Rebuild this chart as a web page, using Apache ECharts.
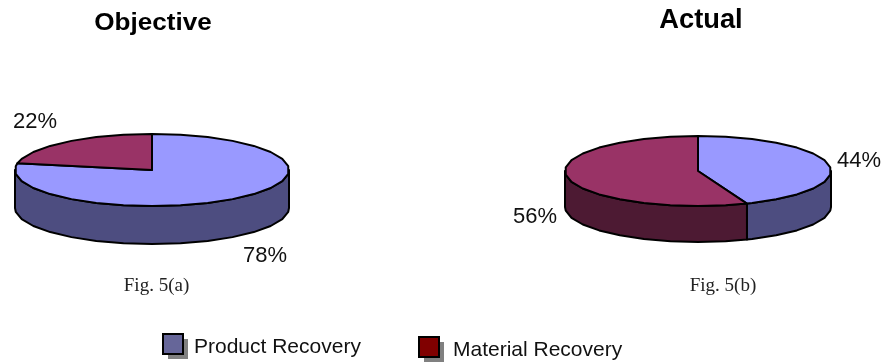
<!DOCTYPE html>
<html>
<head>
<meta charset="utf-8">
<style>html,body{margin:0;padding:0;background:#fff}#chart{width:882px;height:362px}</style>
<script src="https://cdn.jsdelivr.net/npm/echarts@6/dist/echarts.min.js"></script>
</head>
<body>
<div id="chart"></div>
<script>
// Recovery shares, in percent
const categories = ['Product Recovery', 'Material Recovery'];
const objectiveShares = [78, 22];
const actualShares = [44, 56];
const chartTitles = ['Objective', 'Actual'];
const captions = ['Fig. 5(a)', 'Fig. 5(b)'];

const topColors = ['#9999ff', '#993366'];
const sideColors = ['#4d4d80', '#4d1a33'];
const swatchColors = ['#666699', '#800000'];

const SEGMENT_DEG = 12;

// Disc geometry and where each slice's percentage label sits
const objectiveDisc = { cx: 152, cy: 170, rx: 137, ry: 36, depth: 38, labels: [[265, 256], [35, 122]] };
const actualDisc = { cx: 698, cy: 171, rx: 133, ry: 35, depth: 36, labels: [[859, 161], [535, 217]] };

function rimPoint(disc, deg, drop) {
  const t = deg * Math.PI / 180;
  return [disc.cx + disc.rx * Math.sin(t), disc.cy - disc.ry * Math.cos(t) + drop];
}

// Rim polyline between two clockwise angles measured from twelve o'clock
function rimArc(disc, from, to, drop) {
  const pts = [rimPoint(disc, from, drop)];
  for (let a = Math.ceil(from / SEGMENT_DEG) * SEGMENT_DEG; a < to; a += SEGMENT_DEG) {
    if (a > from) pts.push(rimPoint(disc, a, drop));
  }
  pts.push(rimPoint(disc, to, drop));
  return pts;
}

function discSeries(name, shares, disc) {
  const total = shares.reduce((a, b) => a + b, 0);
  return {
    type: 'custom',
    name,
    coordinateSystem: 'none',
    silent: true,
    data: shares.map((v, i) => [v, shares.slice(0, i).reduce((a, b) => a + b, 0)]),
    renderItem(params, api) {
      const i = params.dataIndex;
      const start = api.value(1) / total * 360;
      const end = start + api.value(0) / total * 360;
      const line = { stroke: '#000', lineWidth: 2, lineJoin: 'round' };
      const children = [];

      // The wall is only visible on the near half of the disc
      const wallFrom = Math.max(start, 90);
      const wallTo = Math.min(end, 270);
      if (wallTo > wallFrom) {
        const upper = rimArc(disc, wallFrom, wallTo, 0);
        const lower = rimArc(disc, wallFrom, wallTo, disc.depth).reverse();
        children.push({
          type: 'polygon', z2: 1,
          shape: { points: upper.concat(lower) },
          style: Object.assign({ fill: sideColors[i] }, line)
        });
      }

      children.push({
        type: 'polygon', z2: 2,
        shape: { points: [[disc.cx, disc.cy]].concat(rimArc(disc, start, end, 0)) },
        style: Object.assign({ fill: topColors[i] }, line)
      });

      children.push({
        type: 'text', z2: 3,
        x: disc.labels[i][0], y: disc.labels[i][1],
        style: {
          text: api.value(0) + '%',
          fontFamily: '"Liberation Sans", Arial, sans-serif',
          fontSize: 22, fill: '#111',
          align: 'center', verticalAlign: 'middle'
        }
      });
      return { type: 'group', children };
    }
  };
}

// Legend swatch: offset grey shadow, outlined square and its caption
function legendEntry(i, x, y, textX, textY) {
  return [
    { type: 'rect', shape: { x: x + 5, y: y + 5, width: 20, height: 20 }, style: { fill: '#808080' } },
    { type: 'rect', shape: { x, y, width: 20, height: 20 }, style: { fill: swatchColors[i], stroke: '#000', lineWidth: 2 } },
    { type: 'text', x: textX, y: textY, style: { text: categories[i], fontFamily: '"Liberation Sans", Arial, sans-serif', fontSize: 21, fill: '#111', verticalAlign: 'middle' } }
  ];
}

function captionText(text, x, y) {
  return { type: 'text', x, y, style: { text, fontFamily: '"Liberation Serif", serif', fontSize: 19, fill: '#222', align: 'center', verticalAlign: 'middle' } };
}

// Bold heading, widened horizontally about its centre
function headingText(text, x, y, fontSize, widen) {
  return {
    type: 'text', x, y, scaleX: widen,
    style: {
      text, fontFamily: '"Liberation Sans", Arial, sans-serif', fontSize, fontWeight: 'bold',
      fill: '#000', align: 'center', verticalAlign: 'middle'
    }
  };
}

const chart = echarts.init(document.getElementById('chart'), null, { renderer: 'canvas' });
chart.setOption({
  animation: false,
  backgroundColor: '#fff',
  series: [
    discSeries(chartTitles[0], objectiveShares, objectiveDisc),
    discSeries(chartTitles[1], actualShares, actualDisc)
  ],
  graphic: [
    headingText(chartTitles[0], 153, 24, 23.5, 1.11),
    headingText(chartTitles[1], 701, 21, 27, 1.01),
    captionText(captions[0], 156.5, 286),
    captionText(captions[1], 723, 286)
  ].concat(legendEntry(0, 163, 334, 194, 347), legendEntry(1, 419, 337, 453, 350))
});
</script>
</body>
</html>
